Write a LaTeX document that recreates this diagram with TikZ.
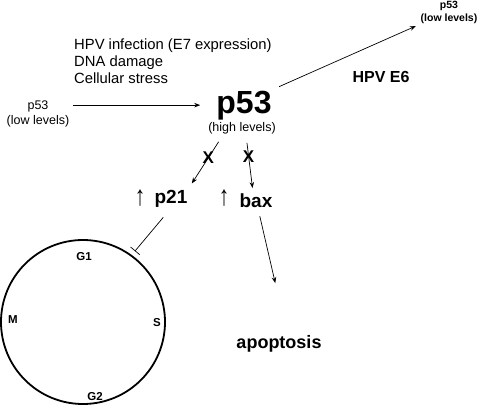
\documentclass[tikz,border=0pt]{standalone}
\usepackage{fontspec}
\setmainfont{Liberation Sans}
\usetikzlibrary{arrows.meta, positioning, calc}

\tikzset{
  arr/.style={-{Stealth[length=6pt,width=4.5pt]}, line width=0.7pt},
  txt/.style={inner sep=1pt, align=center},
  phase/.style={font=\fontsize{11.5}{13}\selectfont\bfseries, inner sep=0pt},
  cross/.style={font=\fontsize{17}{19}\selectfont\bfseries, inner sep=0pt},
}
\newcommand{\uparr}{\scalebox{0.75}[1]{\fontsize{28}{30}\selectfont\bfseries ↑}}

\begin{document}
\begin{tikzpicture}[x=1pt, y=-1pt]
  \useasboundingbox (0,0) rectangle (480,408);

  % p53 levels
  \node[txt, font=\fontsize{12.5}{15}\selectfont] (lowin) at (38,114) {p53\\(low levels)};
  \node[txt, font=\fontsize{32}{36}\selectfont\bfseries, anchor=base] (hi) at (244,113) {p53};
  \node[txt, font=\fontsize{12.5}{15}\selectfont] (hilvl) at (242,128) {(high levels)};
  \node[txt, font=\fontsize{14.8}{17}\selectfont, align=left, anchor=west] (stress) at (73,61)
    {HPV infection (E7 expression)\\DNA damage\\Cellular stress};
  \node[txt, font=\fontsize{10.5}{13}\selectfont\bfseries] (lowout) at (449,12) {p53\\(low levels)};
  \node[txt, font=\fontsize{16}{19}\selectfont\bfseries] (e6) at (381,77) {HPV E6};

  \draw[arr, shorten <=3pt, shorten >=15pt] (lowin.east |- hi.west) -- (hi.west);
  \draw[arr, shorten <=7pt, shorten >=4pt] (hi.north east) -- (lowout.south west);

  % targets
  \node[txt, font=\fontsize{19}{22}\selectfont\bfseries, anchor=base] (p21) at (171,203) {p21};
  \node[txt, font=\fontsize{19}{22}\selectfont\bfseries, anchor=base] (bax) at (256,207) {bax};
  \node[inner sep=0pt] (upa) at (140,198) {\uparr};
  \node[inner sep=0pt] (upb) at (224,198) {\uparr};

  \draw[arr, shorten <=8pt, shorten >=6pt] ([xshift=-19pt]hilvl.south) -- (p21.north east)
    node[cross, pos=0.43] (xa) {X};
  \draw[arr, shorten <=8pt, shorten >=4pt] ([xshift=4pt]hilvl.south) -- ([xshift=-3pt]bax.north)
    node[cross, pos=0.375] (xb) {X};

  % cell cycle
  \node[draw, circle, line width=1.8pt, minimum size=164pt, inner sep=0pt] (cycle) at (83,322) {};
  \node[phase] (g1) at (84,257) {G1};
  \node[phase] (m) at (13,320) {M};
  \node[phase] (s) at (157,323) {S};
  \node[phase] (g2) at (95,397) {G2};
  \draw[line width=0.7pt, -{Bar[width=12pt]}, shorten <=12pt, shorten >=5pt] (p21.south) -- (cycle.54);

  % apoptosis
  \node[txt, font=\fontsize{18}{21}\selectfont\bfseries, anchor=base] (apop) at (279,348) {apoptosis};
  \draw[arr, shorten <=8pt, shorten >=52pt] ([xshift=2pt]bax.south) -- ([xshift=8pt]apop.north);
\end{tikzpicture}
\end{document}
